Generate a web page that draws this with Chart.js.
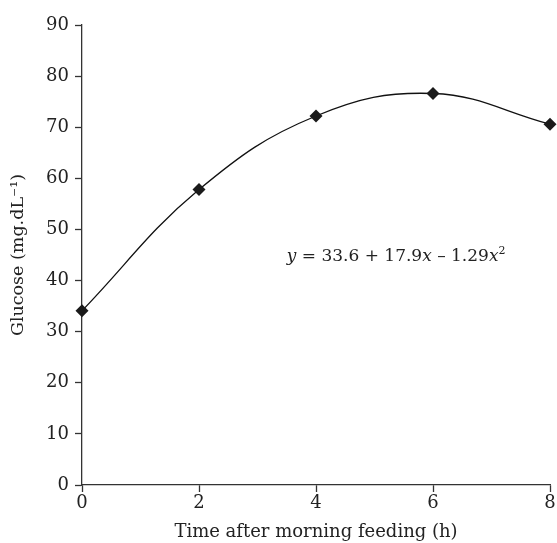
<!DOCTYPE html>
<html>
<head>
<meta charset="utf-8">
<script src="https://cdn.jsdelivr.net/npm/chart.js@4/dist/chart.umd.min.js"></script>
<style>
  html, body { margin: 0; padding: 0; background: #fff; }
  #wrap { width: 557px; height: 543px; }
</style>
</head>
<body>
<div id="wrap"><canvas id="chart"></canvas></div>
<script>
const times = [0, 2, 4, 6, 8]
const glucose = [34.1, 57.8, 72.2, 76.6, 70.6]
const xTicks = [0, 2, 4, 6, 8]
const yTicks = [0, 10, 20, 30, 40, 50, 60, 70, 80, 90]
const equationAt = { x: 3.5, y: 45 }

const serif = "'DejaVu Serif', serif"
const ink = '#222'

// equation label, placed through the chart scales
const equationPlugin = {
    id: 'equation',
    afterDatasetsDraw(chart) {
        const ctx = chart.ctx
        const px = chart.scales.x.getPixelForValue(equationAt.x)
        const py = chart.scales.y.getPixelForValue(equationAt.y)
        const parts = [
            { t: 'y', italic: true },
            { t: ' = 33.6 + 17.9' },
            { t: 'x', italic: true },
            { t: ' \u2013 1.29' },
            { t: 'x', italic: true },
            { t: '2', sup: true }
        ]
        ctx.save()
        ctx.fillStyle = ink
        ctx.textBaseline = 'alphabetic'
        let x = px
        parts.forEach(p => {
            const size = p.sup ? 11 : 17
            ctx.font = (p.italic ? 'italic ' : '') + size + 'px ' + serif
            ctx.fillText(p.t, x, p.sup ? py - 1 : py + 6)
            x += ctx.measureText(p.t).width
        })
        ctx.restore()
    }
}

const chart = new Chart(document.getElementById('chart').getContext('2d'), {
    type: 'scatter',
    data: {
        datasets: [
            {
                data: times.map((t, i) => ({ x: t, y: glucose[i] })),
                showLine: true,
                tension: 0.4,
                clip: false,
                borderColor: '#111',
                borderWidth: 1.3,
                pointStyle: 'rectRot',
                pointRadius: 6.5,
                pointBackgroundColor: '#1a1a1a',
                pointBorderColor: '#1a1a1a',
                pointBorderWidth: 0
            }
        ]
    },
    options: {
        responsive: true,
        maintainAspectRatio: false,
        animation: false,
        layout: { padding: { left: 4, right: 7, top: 25, bottom: 0 } },
        plugins: {
            legend: { display: false },
            tooltip: { enabled: false }
        },
        scales: {
            x: {
                type: 'linear',
                min: 0,
                max: 8,
                afterBuildTicks: axis => { axis.ticks = xTicks.map(v => ({ value: v })) },
                afterFit: axis => { axis.height = 58 },
                border: { color: '#333', width: 1.3 },
                grid: { drawOnChartArea: false, tickLength: 7, color: '#333', tickWidth: 1.3 },
                ticks: { color: ink, font: { family: serif, size: 18 }, padding: 1 },
                title: {
                    display: true,
                    text: 'Time after morning feeding (h)',
                    color: ink,
                    font: { family: serif, size: 18 },
                    padding: { top: 0, bottom: 0 }
                }
            },
            y: {
                min: 0,
                max: 90,
                afterBuildTicks: axis => { axis.ticks = yTicks.map(v => ({ value: v })) },
                afterFit: axis => { axis.width = 78 },
                border: { color: '#333', width: 1.3 },
                grid: { drawOnChartArea: false, tickLength: 7, color: '#333', tickWidth: 1.3 },
                ticks: { color: ink, font: { family: serif, size: 18 }, padding: 6 },
                title: {
                    display: true,
                    text: 'Glucose (mg.dL\u207b\u00b9)',
                    color: ink,
                    font: { family: serif, size: 17.5 },
                    padding: { top: 4, bottom: 0 }
                }
            }
        }
    },
    plugins: [equationPlugin]
})
</script>
</body>
</html>
